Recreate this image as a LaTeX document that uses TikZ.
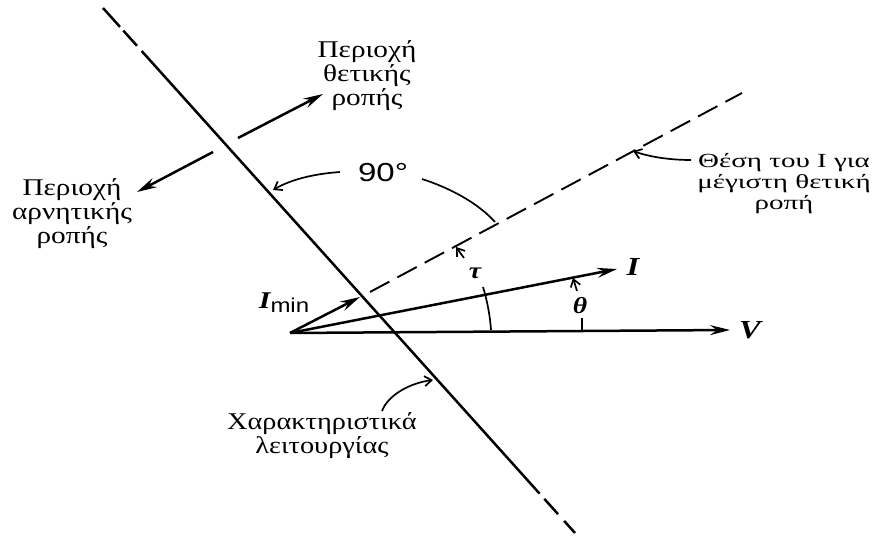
\documentclass[tikz,border=0pt]{standalone}
\usepackage{graphicx}
\usepackage{fontspec}
\setmainfont{Liberation Serif}
\newfontfamily\sansf{Liberation Sans}
\usetikzlibrary{arrows.meta,calc}
\newcommand\hstr[2][1.22]{\scalebox{#1}[1]{#2}}
\tikzset{
  mainline/.style={line width=2.5pt},
  vec/.style={line width=2.5pt,-{Stealth[length=20pt,width=10pt,inset=7pt]}},
  thin/.style={line width=1.7pt},
  thinarrow/.style={line width=1.7pt,-{Straight Barb[length=7pt,width=10pt]}},
  dashline/.style={line width=1.9pt,dash pattern=on 22pt off 9pt},
  gtext/.style={font=\fontsize{24}{24}\selectfont,align=center,inner sep=0pt},
  mtext/.style={font=\fontsize{26}{26}\selectfont\bfseries\itshape,inner sep=0pt},
}
\begin{document}
\begin{tikzpicture}[x=1pt,y=-1pt]
\useasboundingbox (0,0) rectangle (873,537);
% key points
\coordinate (O) at (290,333);
\coordinate (Vtip) at (730,330);
\coordinate (Itip) at (617,269);
\coordinate (Imtip) at (360,297);
\coordinate (cA) at (103,8);
\coordinate (cB) at (575,533);
\coordinate (mA) at (370,292);
\coordinate (mB) at (742,93);
% operating characteristic
\draw[mainline] (cA) -- ($(cA)!0.036!(cB)$);
\draw[mainline] ($(cA)!0.043!(cB)$) -- ($(cA)!0.072!(cB)$);
\draw[mainline] ($(cA)!0.082!(cB)$) -- ($(cA)!0.925!(cB)$);
\draw[mainline] ($(cA)!0.935!(cB)$) -- ($(cA)!0.964!(cB)$);
\draw[mainline] ($(cA)!0.977!(cB)$) -- (cB);
% max torque line
\draw[dashline] (mA) -- (mB);
% vectors
\draw[vec] (O) -- (Vtip);
\draw[vec] (O) -- (Itip);
\draw[vec] (O) -- (Imtip);
% region arrows
\coordinate (pA) at (238,138);
\coordinate (pB) at (323,94);
\coordinate (nA) at (213,152);
\coordinate (nB) at (137,192);
\draw[vec] (pA) -- (pB);
\draw[vec] (nA) -- (nB);
% 90 degree arc
\coordinate (a1) at (422,179);
\coordinate (a2) at (495,222);
\coordinate (a3) at (340,172);
\coordinate (a4) at (273,190);
\draw[thin] (a1) .. controls (450,188) and (478,203) .. (a2);
\draw[thinarrow] (a3) .. controls (312,174) and (290,180) .. (a4);
% tau arc
\coordinate (t1) at (483,287);
\coordinate (t2) at (491,330);
\coordinate (t3) at (464,258);
\coordinate (t4) at (456,247);
\draw[thin] (t1) .. controls (487,300) and (490,315) .. (t2);
\draw[thinarrow] (t3) -- (t4);
% theta arc
\coordinate (h1) at (582,318);
\coordinate (h2) at (582,330);
\coordinate (h3) at (577,291);
\coordinate (h4) at (573,278);
\draw[thin] (h1) -- (h2);
\draw[thinarrow] (h3) -- (h4);
% characteristic label arrow
\coordinate (x1) at (382,411);
\coordinate (x2) at (433,380);
\draw[thinarrow] (x1) .. controls (388,395) and (410,383) .. (x2);
% max position label arrow
\coordinate (y1) at (691,160);
\coordinate (y2) at (633,151);
\draw[thinarrow] (y1) .. controls (670,160) and (650,157) .. (y2);
% labels
\node[gtext] (posl) at (367,76) {\hstr{Περιοχή}\\\hstr{θετικής}\\\hstr{ροπής}};
\node[gtext] (negl) at (72,214) {\hstr{Περιοχή}\\\hstr{αρνητικής}\\\hstr{ροπής}};
\node[gtext,font=\fontsize{20}{21}\selectfont] (maxl) at (784,184) {\hstr[1.45]{Θέση του I για}\\\hstr[1.45]{μέγιστη θετική}\\\hstr[1.45]{ροπή}};
\node[gtext] (charl) at (322,436) {\hstr[1.18]{Χαρακτηριστικά}\\\hstr[1.18]{λειτουργίας}};
\node[font=\fontsize{26}{26}\selectfont\sansf,inner sep=0pt] (deg) at (383,173) {\hstr[1.27]{90°}};
\node[mtext] (Vl) at (750,330) {\hstr[1.25]{V}};
\node[mtext] (Il) at (633,267) {\hstr[1.25]{I}};
\node[mtext,font=\fontsize{23}{23}\selectfont\bfseries\itshape] (taul) at (475,273) {\hstr[1.2]{τ}};
\node[mtext,font=\fontsize{23}{23}\selectfont\bfseries\itshape] (thl) at (580,306) {\hstr[1.2]{θ}};
\node[inner sep=0pt] (Iml) at (284,303) {\fontsize{24}{24}\selectfont\bfseries\itshape\hstr[1.25]{I}\raisebox{-4pt}{\normalfont\sansf\fontsize{20}{20}\selectfont\hstr[1.2]{min}}};
\end{tikzpicture}
\end{document}
